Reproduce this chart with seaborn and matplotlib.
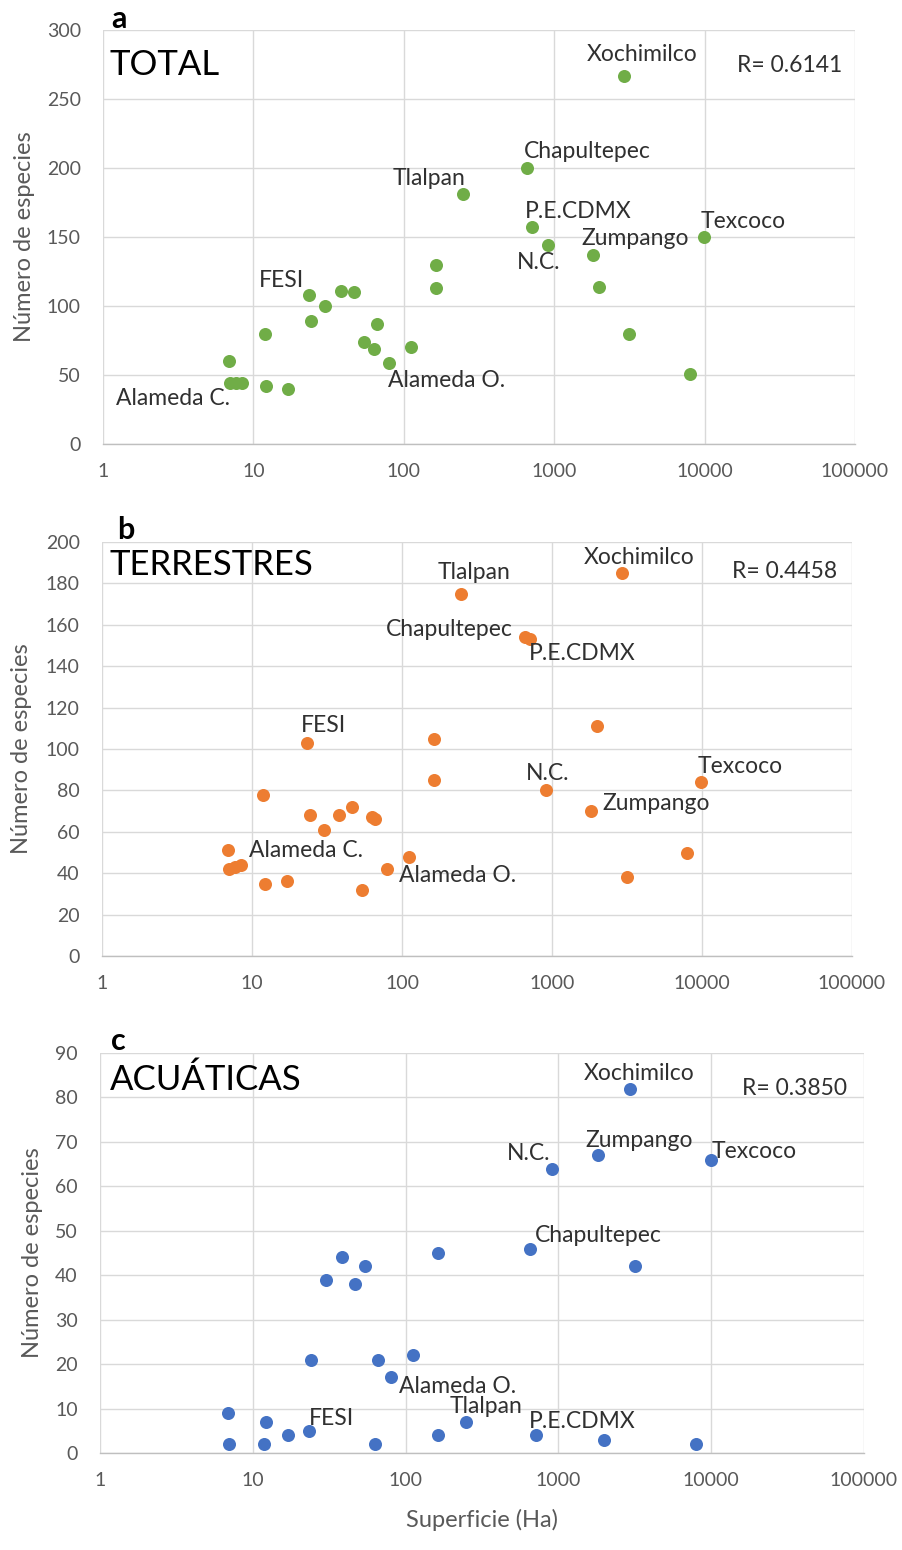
import numpy as np
import matplotlib
matplotlib.use("Agg")
import matplotlib.pyplot as plt
import seaborn as sns
from matplotlib.ticker import FixedLocator, NullLocator

nan = np.nan

# Green areas: surface (ha) and number of bird species recorded
site = ["", "Alameda C.", "", "", "", "", "", "FESI", "", "", "", "", "", "", "",
        "Alameda O.", "", "", "", "Tlalpan", "Chapultepec", "P.E.CDMX", "N.C.",
        "Zumpango", "", "Xochimilco", "", "", "Texcoco"]
area = [6.9, 7.0, 7.7, 8.4, 11.9, 12.2, 17.0, 23.3, 24.2, 30.0, 38.2, 46.5, 54.0,
        63.0, 66.0, 80.0, 111.0, 164.0, 164.0, 248.0, 656.0, 712.0, 906.0,
        1820.0, 2000.0, 2930.0, 3150.0, 8000.0, 9900.0]
total = [60, 44, 44, 44, 80, 42, 40, 108, 89, 100, 111, 110, 74, 69, 87, 59, 70,
         130, 113, 181, 200, 157, 144, 137, 114, 267, 80, 51, 150]
terrestres = [51, 42, 43, 44, 78, 35, 36, 103, 68, 61, 68, 72, 32, 67, 66, 42, 48,
              85, 105, 175, 154, 153, 80, 70, 111, 185, 38, 50, 84]
acuaticas = [9, 2, nan, nan, 2, 7, 4, 5, 21, 39, 44, 38, 42, 2, 21, 17, 22,
             45, 4, 7, 46, 4, 64, 67, 3, 82, 42, 2, 66]

x_ticks = [1, 10, 100, 1000, 10000, 100000]
r_values = ["R= 0.6141", "R= 0.4458", "R= 0.3850"]
titles = ["TOTAL", "TERRESTRES", "ACUÁTICAS"]
letters = ["a", "b", "c"]

sns.set_theme(style="white")
plt.rcParams["font.family"] = ["Lato", "DejaVu Sans"]

W, H = 903, 1550
fig = plt.figure(figsize=(W / 100, H / 100), dpi=100)


def fx(px):
    return px / W


def fy(py):
    return 1 - py / H


# per-panel layout: axes box in pixels (left, top, right, bottom), y range
panels = [
    dict(values=total, color="#70AD47", box=(103, 30, 855, 444), ymax=300, ystep=50,
         letter_xy=(119, 28), title_xy=(110, 75), r_xy=(842, 72), ylab_x=25,
         offsets={"Xochimilco": (18, 21), "Chapultepec": (61, 16), "Tlalpan": (-34, 16),
                  "P.E.CDMX": (46, 16), "Texcoco": (39, 16), "Zumpango": (42, 16),
                  "N.C.": (-9, -17), "FESI": (-27, 14), "Alameda O.": (57, -18),
                  "Alameda C.": (-57, -15)}),
    dict(values=terrestres, color="#ED7D31", box=(102, 542, 852, 956), ymax=200, ystep=20,
         letter_xy=(126, 539), title_xy=(110, 575), r_xy=(837, 578), ylab_x=22,
         offsets={"Xochimilco": (17, 16), "Tlalpan": (13, 21), "Chapultepec": (-75, 8),
                  "P.E.CDMX": (52, -14), "FESI": (16, 17), "N.C.": (2, 17),
                  "Texcoco": (39, 16), "Zumpango": (65, 8), "Alameda C.": (77, 19),
                  "Alameda O.": (70, -6)}),
    dict(values=acuaticas, color="#4472C4", box=(100, 1053, 864, 1453), ymax=90, ystep=10,
         letter_xy=(118, 1050), title_xy=(110, 1090), r_xy=(847, 1095), ylab_x=33,
         offsets={"Xochimilco": (9, 15), "Zumpango": (41, 15), "N.C.": (-23, 15),
                  "Texcoco": (44, 8), "Chapultepec": (68, 13), "Alameda O.": (67, -9),
                  "Tlalpan": (20, 15), "FESI": (23, 12), "P.E.CDMX": (46, 14)}),
]

tick_color = "#595959"
text_color = "#303030"

for i, p in enumerate(panels):
    l, t, r, b = p["box"]
    ax = fig.add_axes([fx(l), fy(b), (r - l) / W, (b - t) / H])
    sns.scatterplot(x=area, y=p["values"], ax=ax, color=p["color"], s=88,
                    linewidth=0, clip_on=False, zorder=3)
    ax.set_xscale("log")
    ax.set_xlim(1, 100000)
    ax.set_ylim(0, p["ymax"])
    ax.xaxis.set_major_locator(FixedLocator(x_ticks))
    ax.xaxis.set_minor_locator(NullLocator())
    ax.set_xticklabels([str(v) for v in x_ticks])
    ax.set_yticks(np.arange(0, p["ymax"] + 1, p["ystep"]))
    ax.tick_params(axis="both", length=0, labelsize=14, labelcolor=tick_color)
    ax.tick_params(axis="x", pad=14)
    ax.tick_params(axis="y", pad=16)
    ax.grid(True, color="#d9d9d9", linewidth=1.0)
    ax.set_axisbelow(True)
    for side in ("top", "right", "left"):
        ax.spines[side].set_visible(False)
    ax.spines["bottom"].set_color("#bfbfbf")
    ax.spines["bottom"].set_linewidth(1.0)
    ax.set_xlabel("")
    ax.set_ylabel("")

    # site names next to their markers
    for name, xv, yv in zip(site, area, p["values"]):
        if name in p["offsets"] and not np.isnan(yv):
            dx, dy = p["offsets"][name]
            ax.annotate(name, (xv, yv), xytext=(dx, dy), textcoords="offset pixels",
                        ha="center", va="center", fontsize=16.5, color=text_color,
                        zorder=4)

    fig.text(fx(p["letter_xy"][0]), fy(p["letter_xy"][1]), letters[i], ha="center",
             va="baseline", fontsize=22, fontweight="bold", color="black")
    fig.text(fx(p["title_xy"][0]), fy(p["title_xy"][1]), titles[i], ha="left",
             va="baseline", fontsize=25, color="black")
    fig.text(fx(p["r_xy"][0]), fy(p["r_xy"][1]), r_values[i], ha="right",
             va="baseline", fontsize=16.5, color=text_color)
    fig.text(fx(p["ylab_x"]), fy((t + b) / 2), "Número de especies", rotation=90,
             ha="center", va="center", fontsize=17, color=tick_color)

fig.text(fx(482), fy(1520), "Superficie (Ha)", ha="center", va="center",
         fontsize=17, color=tick_color)

fig.savefig("out.png", dpi=100, facecolor="white")
